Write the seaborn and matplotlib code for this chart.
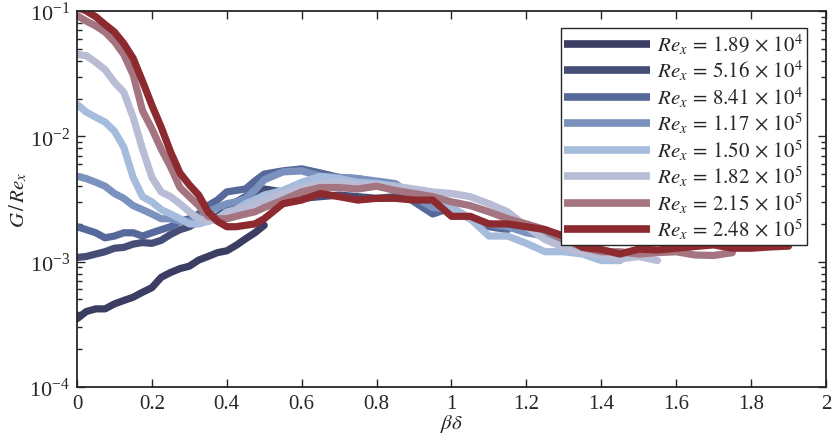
import numpy as np
import pandas as pd
import matplotlib
matplotlib.use("Agg")
import matplotlib.pyplot as plt
import seaborn as sns

# shared beta*delta sampling (each curve uses the first len(values) points)
beta_delta = [0.0, 0.025, 0.05, 0.075, 0.1, 0.125, 0.15, 0.175, 0.2, 0.225,
              0.25, 0.275, 0.3, 0.325, 0.35, 0.375, 0.4, 0.425, 0.45, 0.475,
              0.5, 0.55, 0.6, 0.65, 0.7, 0.75, 0.8, 0.85, 0.9, 0.95,
              1.0, 1.05, 1.1, 1.15, 1.2, 1.25, 1.3, 1.35, 1.4, 1.45,
              1.5, 1.55, 1.6, 1.65, 1.7, 1.75, 1.8, 1.85, 1.9]

re_labels = [r"$Re_x\,=\,1.89\,\times\,10^4$", r"$Re_x\,=\,5.16\,\times\,10^4$",
             r"$Re_x\,=\,8.41\,\times\,10^4$", r"$Re_x\,=\,1.17\,\times\,10^5$",
             r"$Re_x\,=\,1.50\,\times\,10^5$", r"$Re_x\,=\,1.82\,\times\,10^5$",
             r"$Re_x\,=\,2.15\,\times\,10^5$", r"$Re_x\,=\,2.48\,\times\,10^5$"]

# G/Re_x values
g_re_1p89e4 = [0.00035, 0.00040, 0.00042, 0.00042, 0.00046, 0.00049, 0.00052, 0.00057, 0.00062, 0.00075,
               0.00082, 0.00088, 0.00092, 0.00103, 0.00110, 0.00118, 0.00122, 0.00135, 0.00152, 0.00170,
               0.00195]
g_re_5p16e4 = [0.00108, 0.00110, 0.00115, 0.00120, 0.00128, 0.00130, 0.00138, 0.00142, 0.00140, 0.00148,
               0.00165, 0.00180, 0.00190, 0.00210, 0.00220, 0.00230, 0.00260, 0.00300, 0.00330, 0.00360,
               0.00380, 0.00360, 0.00320, 0.00330, 0.00340, 0.00330, 0.00320, 0.00330, 0.00310, 0.00280]
g_re_8p41e4 = [0.00190, 0.00180, 0.00170, 0.00155, 0.00160, 0.00170, 0.00170, 0.00160, 0.00170, 0.00180,
               0.00190, 0.00210, 0.00220, 0.00240, 0.00280, 0.00310, 0.00360, 0.00370, 0.00380, 0.00440,
               0.00500, 0.00530, 0.00550, 0.00510, 0.00470, 0.00460, 0.00430, 0.00410, 0.00300, 0.00240,
               0.00270, 0.00220, 0.00190, 0.00180]
g_re_1p17e5 = [0.00480, 0.00460, 0.00430, 0.00400, 0.00350, 0.00320, 0.00280, 0.00260, 0.00240, 0.00220,
               0.00220, 0.00210, 0.00210, 0.00220, 0.00250, 0.00270, 0.00290, 0.00300, 0.00320, 0.00370,
               0.00450, 0.00520, 0.00530, 0.00480, 0.00470, 0.00460, 0.00440, 0.00420, 0.00330, 0.00270,
               0.00260, 0.00220, 0.00200, 0.00190, 0.00170, 0.00160, 0.00140, 0.00130]
g_re_1p50e5 = [0.0180, 0.0156, 0.0142, 0.0130, 0.0110, 0.0082, 0.0047, 0.0033, 0.0030, 0.0026,
               0.0024, 0.0022, 0.0020, 0.0020, 0.0021, 0.0022, 0.0025, 0.0026, 0.0029, 0.0031,
               0.0034, 0.0037, 0.0043, 0.0048, 0.0046, 0.0043, 0.0042, 0.0040, 0.0037, 0.0035,
               0.0027, 0.0022, 0.0016, 0.0016, 0.0014, 0.0012, 0.0012, 0.00115, 0.00102, 0.00102]
g_re_1p82e5 = [0.0450, 0.0440, 0.0390, 0.0340, 0.0270, 0.0225, 0.0142, 0.0079, 0.0047, 0.0036,
               0.0033, 0.0029, 0.0025, 0.0022, 0.0021, 0.0022, 0.0024, 0.0026, 0.0027, 0.0029,
               0.0031, 0.0035, 0.0039, 0.0042, 0.0043, 0.0041, 0.0041, 0.0040, 0.0038, 0.0036,
               0.0035, 0.0033, 0.0029, 0.0025, 0.0019, 0.0015, 0.0013, 0.00118, 0.00112, 0.00105,
               0.00110, 0.00102]
g_re_2p15e5 = [0.0920, 0.0830, 0.0760, 0.0680, 0.0570, 0.0450, 0.0310, 0.0160, 0.0115, 0.0079,
               0.0057, 0.0039, 0.0033, 0.0028, 0.0023, 0.0022, 0.0022, 0.0023, 0.0024, 0.0025,
               0.0027, 0.0031, 0.0036, 0.0039, 0.0039, 0.0038, 0.0040, 0.0037, 0.0035, 0.0033,
               0.0030, 0.0028, 0.0025, 0.0022, 0.0020, 0.0018, 0.0015, 0.0013, 0.0012, 0.0012,
               0.00115, 0.00118, 0.00120, 0.00113, 0.00112, 0.00118]
g_re_2p48e5 = [0.1080, 0.1000, 0.0900, 0.0780, 0.0680, 0.0550, 0.0420, 0.0275, 0.0177, 0.0118,
               0.0075, 0.0051, 0.0041, 0.0034, 0.0025, 0.0021, 0.0019, 0.0019, 0.00195, 0.0020,
               0.0022, 0.0029, 0.0031, 0.0035, 0.0033, 0.0031, 0.0032, 0.0032, 0.0031, 0.0031,
               0.0023, 0.0023, 0.0020, 0.0020, 0.0019, 0.0018, 0.0016, 0.0013, 0.00125, 0.00115,
               0.00126, 0.00124, 0.00128, 0.00132, 0.00136, 0.00128, 0.00128, 0.00131, 0.00133]

series = [g_re_1p89e4, g_re_5p16e4, g_re_8p41e4, g_re_1p17e5,
          g_re_1p50e5, g_re_1p82e5, g_re_2p15e5, g_re_2p48e5]

colors = ["#3B3D63", "#464E78", "#56699A", "#7A92BD",
          "#A6BCDD", "#B8BDD5", "#A47580", "#8C2A2F"]

rows = []
for lab, vals in zip(re_labels, series):
    for xv, yv in zip(beta_delta[:len(vals)], vals):
        rows.append({"bd": xv, "G": yv, "Re": lab})
df = pd.DataFrame(rows)

sns.set_style("ticks")
plt.rcParams["font.family"] = ["Liberation Serif", "DejaVu Serif"]
plt.rcParams["mathtext.fontset"] = "stix"
plt.rcParams["axes.unicode_minus"] = False

fig = plt.figure(figsize=(8.32, 4.39), dpi=100)
ax = fig.add_axes([0.0925, 0.1162, 0.9003, 0.8565])

sns.lineplot(data=df, x="bd", y="G", hue="Re", hue_order=re_labels,
             palette=colors, sort=False, estimator=None, linewidth=5.2,
             ax=ax, legend=True)
for ln in ax.lines:
    ln.set_solid_joinstyle("round")
    ln.set_solid_capstyle("round")

ax.set_yscale("log")
ax.set_xlim(0, 2)
ax.set_ylim(1e-4, 1e-1)
ax.set_xticks([0, 0.2, 0.4, 0.6, 0.8, 1, 1.2, 1.4, 1.6, 1.8, 2])
ax.set_xticklabels(["0", "0.2", "0.4", "0.6", "0.8", "1", "1.2", "1.4", "1.6", "1.8", "2"])
ax.set_xlabel(r"$\beta\delta$", fontsize=15, labelpad=-1)
ax.set_ylabel(r"$G\,/\,Re_x$", fontsize=15, labelpad=0)

ax.tick_params(axis="both", which="both", direction="in", top=True, right=True,
               labelsize=15, colors="#262626")
ax.tick_params(axis="y", which="major", labelsize=16)
ax.tick_params(axis="both", which="major", length=6, width=1.0, pad=5)
ax.tick_params(axis="both", which="minor", length=3.5, width=1.0)
ax.tick_params(axis="x", which="minor", top=False, bottom=False)
for sp in ax.spines.values():
    sp.set_linewidth(1.3)
    sp.set_color("#262626")
    sp.set_visible(True)

handles, labels = ax.get_legend_handles_labels()
leg = ax.legend(handles, labels, loc="upper right", bbox_to_anchor=(0.9746, 0.9548),
                borderaxespad=0, fontsize=15, handlelength=4.1, handletextpad=0.35,
                labelspacing=0.1, borderpad=0.18, fancybox=False, framealpha=1,
                edgecolor="#262626")
leg.get_frame().set_linewidth(1.0)
for h in leg.get_lines():
    h.set_linewidth(5.5)
    h.set_solid_capstyle("butt")

fig.savefig("out.png", dpi=100)
